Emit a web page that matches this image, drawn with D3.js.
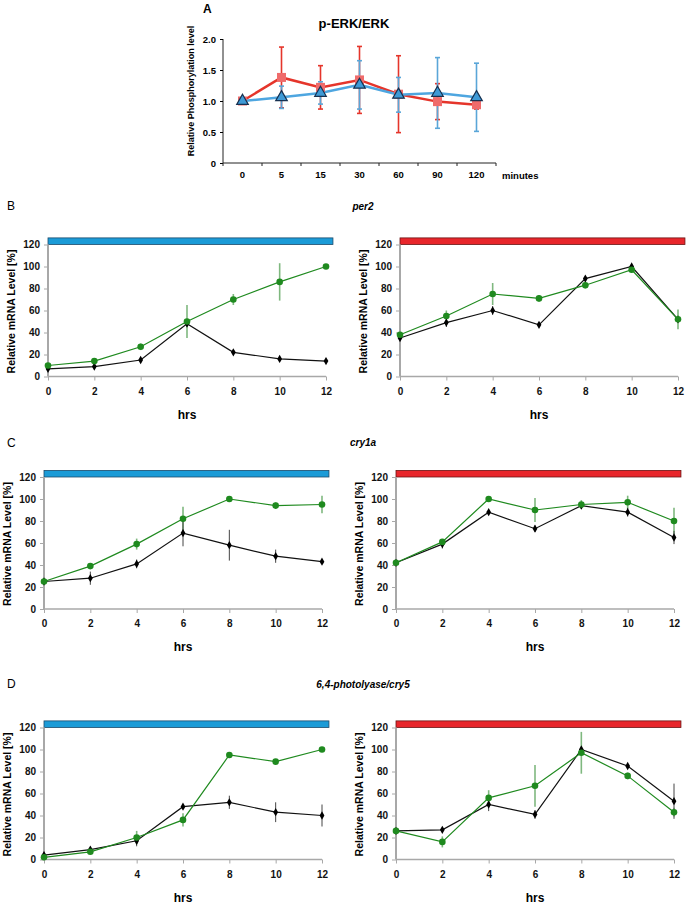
<!DOCTYPE html>
<html>
<head>
<meta charset="utf-8">
<script src="https://cdn.jsdelivr.net/npm/d3@7"></script>
<style>
  body { margin: 0; background: #fff; }
  text { font-family: "Liberation Sans", Arial, sans-serif; }
</style>
</head>
<body>
<div class="container"></div>
<script>
const WIDTH = 689;
const HEIGHT = 904;

// panel A data
const erkTimes = ["0", "5", "15", "30", "60", "90", "120"];
const erkRed = [1.0, 1.38, 1.22, 1.34, 1.11, 0.99, 0.94];
const erkRedErr = [0, 0.49, 0.35, 0.54, 0.62, 0.29, 0.07];
const erkBlue = [1.0, 1.06, 1.13, 1.26, 1.10, 1.13, 1.06];
const erkBlueErr = [0, 0.18, 0.18, 0.39, 0.28, 0.57, 0.55];
const erkTicks = [0, 0.5, 1, 1.5, 2];
const erkTickLabels = ["0", "0.5", "1.0", "1.5", "2.0"];

// panels B-D data
const hours = [0, 2, 4, 6, 8, 10, 12];
const mrnaTicks = [0, 20, 40, 60, 80, 100, 120];
const genes = ["per2", "cry1a", "6,4-photolyase/cry5"];

const per2BlueBlack = [7, 9, 15, 48, 22, 16, 14];
const per2BlueBlackErr = [1, 1, 2, 2, 1, 1, 1];
const per2BlueGreen = [10, 14, 27, 50, 70, 86, 100];
const per2BlueGreenErr = [1, 1, 3, 15, 5, 17, 0];
const per2RedBlack = [35, 49, 60, 47, 89, 100, 52];
const per2RedBlackErr = [2, 4, 4, 1, 1, 1, 1];
const per2RedGreen = [38, 55, 75, 71, 83, 97, 52];
const per2RedGreenErr = [2, 5, 10, 3, 3, 2, 9];

const cry1aBlueBlack = [25, 28, 41, 69, 58, 48, 43];
const cry1aBlueBlackErr = [1, 6, 4, 12, 14, 6, 1];
const cry1aBlueGreen = [25, 39, 59, 82, 100, 94, 95];
const cry1aBlueGreenErr = [1, 1, 5, 11, 1, 3, 8];
const cry1aRedBlack = [42, 59, 88, 73, 94, 88, 65];
const cry1aRedBlackErr = [1, 4, 1, 3, 2, 4, 6];
const cry1aRedGreen = [42, 61, 100, 90, 95, 97, 80];
const cry1aRedGreenErr = [1, 2, 1, 11, 4, 6, 12];

const cry5BlueBlack = [4, 9, 17, 48, 52, 43, 40];
const cry5BlueBlackErr = [1, 1, 5, 1, 6, 9, 10];
const cry5BlueGreen = [2, 7, 20, 36, 95, 89, 100];
const cry5BlueGreenErr = [1, 1, 6, 6, 1, 1, 1];
const cry5RedBlack = [26, 27, 50, 41, 100, 85, 53];
const cry5RedBlackErr = [1, 1, 6, 4, 1, 2, 16];
const cry5RedGreen = [26, 16, 56, 67, 97, 76, 43];
const cry5RedGreenErr = [1, 5, 7, 19, 19, 3, 4];

const BLUE_BAR = "#1b9bd7";
const RED_BAR = "#e8262b";
const GREEN = "#1f8a1f";
const AXIS_GREY = "#a8a8a8";

var svg = d3.select(".container").append("svg")
  .attr("width", WIDTH)
  .attr("height", HEIGHT);

var translate = function(x, y) {
  return "translate(" + x + ", " + y + ")";
};

var zip = function(values, errs) {
  return values.map(function(v, i) { return {i: i, v: v, e: errs[i]}; });
};

// ---------- panel A ----------
var drawErk = function() {
  var g = svg.append("g");
  var xScale = d3.scaleBand().domain(erkTimes).range([223, 496]);
  var yScale = d3.scaleLinear().domain([0, 2]).range([163, 39]);

  g.append("text").attr("x", 203).attr("y", 13)
    .style("font-size", "12px").style("font-weight", "bold").text("A");
  g.append("text").attr("x", 354).attr("y", 28).attr("text-anchor", "middle")
    .style("font-size", "13px").style("font-weight", "bold").text("p-ERK/ERK");
  g.append("text").attr("transform", translate(194, 91) + " rotate(-90)")
    .attr("text-anchor", "middle")
    .style("font-size", "9px").style("font-weight", "bold")
    .text("Relative Phosphorylation level");

  var yAxis = d3.axisLeft(yScale).tickValues(erkTicks)
    .tickFormat(function(d, i) { return erkTickLabels[i]; })
    .tickSize(3).tickPadding(4);
  var yg = g.append("g").attr("transform", translate(223, 0)).call(yAxis);
  yg.select(".domain").attr("stroke", "#222").attr("d", "M0,39V163");
  yg.selectAll("text").style("font-size", "9.5px").style("font-weight", "bold");

  var xAxis = d3.axisBottom(xScale).tickSize(0).tickPadding(8);
  var xg = g.append("g").attr("transform", translate(0, 163)).call(xAxis);
  xg.select(".domain").attr("stroke", "#222").attr("d", "M223,0H496");
  xg.selectAll("text").style("font-size", "9.5px").style("font-weight", "bold");
  // tick marks at category boundaries
  xg.selectAll("line.bound").data(erkTimes.concat(["end"]))
    .enter().append("line").classed("bound", true)
    .attr("x1", function(d, i) { return 223 + i * xScale.step(); })
    .attr("x2", function(d, i) { return 223 + i * xScale.step(); })
    .attr("y1", 0).attr("y2", 3).attr("stroke", "#222");
  g.append("text").attr("x", 502).attr("y", 179)
    .style("font-size", "9.5px").style("font-weight", "bold").text("minutes");

  var cx = function(d) { return xScale(erkTimes[d.i]) + xScale.bandwidth() / 2; };
  var red = zip(erkRed, erkRedErr);
  var blue = zip(erkBlue, erkBlueErr);

  var errBars = function(data, color) {
    var eg = g.append("g").attr("stroke", color).attr("stroke-width", 1.6);
    var d2 = data.filter(function(d) { return d.e > 0; });
    eg.selectAll("line.v").data(d2).enter().append("line")
      .attr("x1", cx).attr("x2", cx)
      .attr("y1", function(d) { return yScale(d.v - d.e); })
      .attr("y2", function(d) { return yScale(d.v + d.e); });
    [-1, 1].forEach(function(s) {
      eg.selectAll("line.c" + s).data(d2).enter().append("line")
        .attr("x1", function(d) { return cx(d) - 2.5; })
        .attr("x2", function(d) { return cx(d) + 2.5; })
        .attr("y1", function(d) { return yScale(d.v + s * d.e); })
        .attr("y2", function(d) { return yScale(d.v + s * d.e); });
    });
  };
  errBars(red, "#e5352b");
  errBars(blue, "#5aa6d8");

  var line = d3.line().x(cx).y(function(d) { return yScale(d.v); });
  g.append("path").attr("d", line(red)).attr("fill", "none")
    .attr("stroke", "#e5352b").attr("stroke-width", 2.5);
  g.append("path").attr("d", line(blue)).attr("fill", "none")
    .attr("stroke", "#4ea6e0").attr("stroke-width", 2.5);

  g.selectAll("rect.sq").data(red).enter().append("rect").classed("sq", true)
    .attr("x", function(d) { return cx(d) - 4.5; })
    .attr("y", function(d) { return yScale(d.v) - 4.5; })
    .attr("width", 9).attr("height", 9).attr("fill", "#ef6b6b");
  g.selectAll("path.tri").data(blue).enter().append("path").classed("tri", true)
    .attr("d", d3.symbol().type(d3.symbolTriangle).size(58))
    .attr("transform", function(d) { return translate(cx(d), yScale(d.v)); })
    .attr("fill", "#3f9ad6").attr("stroke", "#17304f").attr("stroke-width", 1.2);
};

// ---------- panels B-D ----------
var drawPanel = function(x0, yTop, black, blackErr, green, greenErr, barColor, barStroke) {
  var g = svg.append("g");
  var xScale = d3.scaleLinear().domain([0, 12]).range([x0, x0 + 278]);
  var yScale = d3.scaleLinear().domain([0, 120]).range([yTop + 132, yTop]);

  // condition bar
  g.append("rect")
    .attr("x", xScale(0)).attr("y", yScale(126))
    .attr("width", xScale(12.3) - xScale(0)).attr("height", yScale(120) - yScale(126))
    .attr("fill", barColor).attr("stroke", barStroke).attr("stroke-width", 0.8);

  var yAxis = d3.axisLeft(yScale).tickValues(mrnaTicks).tickSize(4).tickPadding(4);
  var yg = g.append("g").attr("transform", translate(x0, 0)).call(yAxis);
  yg.select(".domain").attr("stroke", AXIS_GREY).attr("stroke-width", 2)
    .attr("d", "M0," + yScale(120) + "V" + yScale(0));
  yg.selectAll(".tick line").attr("stroke", AXIS_GREY);
  yg.selectAll("text").style("font-size", "10px").style("font-weight", "bold").attr("fill", "#111");

  var xAxis = d3.axisBottom(xScale).tickValues(hours).tickSize(4).tickPadding(7);
  var xg = g.append("g").attr("transform", translate(0, yScale(0))).call(xAxis);
  xg.select(".domain").attr("stroke", AXIS_GREY).attr("stroke-width", 1.5)
    .attr("d", "M" + x0 + ",0H" + (x0 + 278));
  xg.selectAll(".tick line").attr("stroke", AXIS_GREY);
  xg.selectAll("text").style("font-size", "10px").style("font-weight", "bold").attr("fill", "#111");

  g.append("text").attr("x", x0 + 139).attr("y", yScale(0) + 42).attr("text-anchor", "middle")
    .style("font-size", "12px").style("font-weight", "bold").text("hrs");
  g.append("text").attr("transform", translate(x0 - 33, yTop + 67) + " rotate(-90)")
    .attr("text-anchor", "middle")
    .style("font-size", "10.5px").style("font-weight", "bold")
    .text("Relative mRNA Level [%]");

  var cx = function(d) { return xScale(hours[d.i]); };
  var cy = function(d) { return yScale(d.v); };
  var bl = zip(black, blackErr);
  var gr = zip(green, greenErr);

  var errBars = function(data, color, w) {
    g.append("g").selectAll("line").data(data).enter().append("line")
      .attr("x1", cx).attr("x2", cx)
      .attr("y1", function(d) { return yScale(d.v - d.e); })
      .attr("y2", function(d) { return yScale(d.v + d.e); })
      .attr("stroke", color).attr("stroke-width", w);
  };
  errBars(gr, "#7fb87f", 1.6);
  errBars(bl, "#444", 1);

  var line = d3.line().x(cx).y(cy);
  g.append("path").attr("d", line(bl)).attr("fill", "none")
    .attr("stroke", "#111").attr("stroke-width", 1.2);
  g.append("path").attr("d", line(gr)).attr("fill", "none")
    .attr("stroke", GREEN).attr("stroke-width", 1.2);

  g.selectAll("path.dia").data(bl).enter().append("path").classed("dia", true)
    .attr("d", d3.symbol().type(d3.symbolDiamond).size(20))
    .attr("transform", function(d) { return translate(cx(d), cy(d)); })
    .attr("fill", "#000");
  g.selectAll("circle").data(gr).enter().append("circle")
    .attr("cx", cx).attr("cy", cy).attr("r", 3.3).attr("fill", GREEN);
};

var drawLabels = function() {
  var letters = [["B", 205], ["C", 442], ["D", 683]];
  letters.forEach(function(l) {
    svg.append("text").attr("x", 7).attr("y", l[1] + 5)
      .style("font-size", "12px").text(l[0]);
  });
  var geneY = [210, 446, 688];
  genes.forEach(function(name, i) {
    svg.append("text").attr("x", 363).attr("y", geneY[i]).attr("text-anchor", "middle")
      .style("font-size", "10px").style("font-weight", "bold").style("font-style", "italic")
      .text(name);
  });
};

var load = function() {
  drawErk();
  drawLabels();
  drawPanel(48, 244.5, per2BlueBlack, per2BlueBlackErr, per2BlueGreen, per2BlueGreenErr, BLUE_BAR, "#1d4b6b");
  drawPanel(400, 244.5, per2RedBlack, per2RedBlackErr, per2RedGreen, per2RedGreenErr, RED_BAR, "#6a1515");
  drawPanel(44, 477, cry1aBlueBlack, cry1aBlueBlackErr, cry1aBlueGreen, cry1aBlueGreenErr, BLUE_BAR, "#1d4b6b");
  drawPanel(396, 477, cry1aRedBlack, cry1aRedBlackErr, cry1aRedGreen, cry1aRedGreenErr, RED_BAR, "#6a1515");
  drawPanel(44, 727.5, cry5BlueBlack, cry5BlueBlackErr, cry5BlueGreen, cry5BlueGreenErr, BLUE_BAR, "#1d4b6b");
  drawPanel(396, 727.5, cry5RedBlack, cry5RedBlackErr, cry5RedGreen, cry5RedGreenErr, RED_BAR, "#6a1515");
};

window.onload = load;
</script>
</body>
</html>
